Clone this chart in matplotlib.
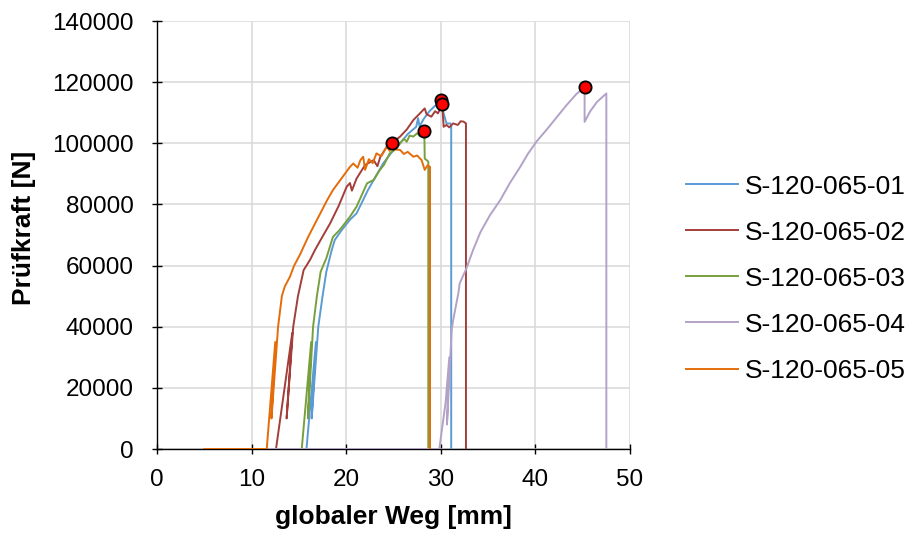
import matplotlib
matplotlib.use("Agg")
import matplotlib.pyplot as plt

plt.rcParams['font.family'] = ['Liberation Sans', 'DejaVu Sans']

series_names = ["S-120-065-01", "S-120-065-02", "S-120-065-03", "S-120-065-04", "S-120-065-05"]
colors = ["#5B9BD5", "#A33E3A", "#77A03C", "#B3A2C7", "#E46C0A"]

x01 = [5.0, 15.8, 16.8, 16.35, 17.05, 17.5, 17.9, 18.47, 18.8, 19.5, 20.4, 21.1, 22.3, 23.0, 23.9, 24.8,
       25.7, 26.5, 27.4, 27.6, 27.75, 28.2, 28.8, 29.3, 29.7, 30.0, 30.3, 30.6, 31.0, 31.1, 31.1]
f01 = [0, 0, 35000, 10000, 40000, 50000, 58000, 65100, 68400, 71500, 75000, 77100, 84700, 88500, 93400, 97000,
       100000, 103000, 105400, 108200, 105500, 108000, 110500, 112000, 113000, 114200, 109800, 106500, 106500, 106000, 0]

x02 = [5.0, 12.58, 14.3, 13.7, 14.4, 14.9, 15.5, 16.2, 16.7, 17.5, 18.3, 19.2, 20.05, 20.4, 20.6, 21.1, 22.0,
       22.9, 23.3, 23.6, 24.3, 25.0, 25.7, 26.4, 27.1, 27.7, 28.3, 28.5, 29.0, 29.4, 29.7, 30.15, 30.3, 30.6,
       30.9, 31.3, 31.8, 32.1, 32.4, 32.66, 32.66]
f02 = [0, 0, 38000, 10000, 40000, 50000, 58500, 62000, 65100, 69500, 73800, 79500, 85800, 87000, 84500, 88500, 92900,
       94500, 92500, 95500, 98900, 100500, 102200, 104500, 107600, 109500, 111400, 109500, 108700, 110500, 109800, 112700, 105400, 106000,
       105200, 106500, 106000, 107200, 107100, 106500, 0]

x03 = [5.0, 15.3, 16.3, 15.95, 16.5, 16.9, 17.3, 17.9, 18.6, 19.3, 20.4, 21.1, 22.2, 22.9, 23.5, 24.0, 24.6,
       25.2, 25.7, 26.1, 26.4, 26.7, 27.1, 27.5, 27.8, 28.15, 28.26, 28.3, 28.5, 28.68, 28.68]
f03 = [0, 0, 35000, 10000, 40000, 50000, 58000, 62400, 69400, 71600, 76000, 79300, 86900, 88000, 91000, 93000, 96700,
       98000, 100000, 101500, 100500, 102500, 102200, 103300, 102300, 103300, 104000, 95000, 94500, 94000, 0]

x04 = [5.0, 29.84, 30.5, 30.9, 30.65, 31.15, 31.3, 31.85, 32.0, 32.7, 33.4, 34.2, 35.2, 36.3, 37.3, 38.4, 39.2,
       40.1, 41.2, 42.3, 43.3, 44.3, 45.2, 45.2, 45.8, 46.5, 47.5, 47.5]
f04 = [0, 0, 15000, 30000, 8000, 38900, 42000, 50900, 54200, 59000, 65000, 71000, 76500, 81500, 87000, 92300, 96500,
       100500, 104500, 108700, 112500, 116000, 118500, 107000, 110500, 113500, 116300, 0]

x05 = [5.0, 11.6, 12.5, 12.1, 12.8, 13.2, 13.5, 14.06, 14.5, 15.1, 16.0, 16.9, 18.0, 18.6, 19.5, 20.4, 20.75,
       21.2, 21.5, 21.8, 22.0, 22.4, 22.8, 23.2, 23.7, 24.3, 24.6, 24.8, 25.2, 25.7, 26.1, 26.5, 27.1, 27.5,
       27.97, 28.3, 28.6, 28.86, 28.86]
f05 = [0, 0, 35000, 10000, 40000, 50000, 53100, 56400, 60000, 63500, 69500, 74900, 81500, 84700, 88500, 92300, 93400,
       92000, 94500, 95600, 91300, 94800, 93500, 96700, 95800, 98900, 97500, 100000, 98000, 97800, 96500, 97200, 95600, 96000,
       94500, 91300, 92800, 92300, 0]

peak_x = [30.0, 30.15, 28.26, 45.2, 24.8]
peak_f = [114200, 112700, 104000, 118500, 100000]

xs = [x01, x02, x03, x04, x05]
fs = [f01, f02, f03, f04, f05]

W, H = 911, 538
fig = plt.figure(figsize=(W / 100, H / 100), dpi=100)
ax = fig.add_axes([157 / W, 1 - 449 / H, (630 - 157) / W, (449 - 21) / H])

for x, f, c, n in zip(xs, fs, colors, series_names):
    ax.plot(x, f, color=c, lw=1.4, label=n, zorder=3)

ax.plot(peak_x, peak_f, linestyle='none', marker='o', markersize=8.8,
        markerfacecolor='#FF0000', markeredgecolor='black', markeredgewidth=1.3, zorder=5)

ax.set_xlim(0, 50)
ax.set_ylim(0, 140000)
ax.set_xticks([0, 10, 20, 30, 40, 50])
ax.set_yticks([0, 20000, 40000, 60000, 80000, 100000, 120000, 140000])
ax.grid(True, color='#D9D9D9', lw=1.1, zorder=0)
ax.set_axisbelow(True)
for s in ['top', 'right']:
    ax.spines[s].set_visible(False)
for s in ['left', 'bottom']:
    ax.spines[s].set_color('black')
    ax.spines[s].set_linewidth(1.0)
    ax.spines[s].set_zorder(2)
ax.tick_params(axis='both', direction='inout', length=7, width=1.0, labelsize=17.5, colors='black')
ax.tick_params(axis='y', pad=13.5)
ax.tick_params(axis='x', pad=11)

ax.set_xlabel("globaler Weg [mm]", fontsize=19, fontweight='bold', labelpad=10)
ax.set_ylabel("Prüfkraft [N]", fontsize=19, fontweight='bold', labelpad=11)
ax.yaxis.label.set_y((449 - 228) / 428)

fig.legend(loc='center left', bbox_to_anchor=(686 / W, 1 - 278.7 / H), frameon=False,
           fontsize=19, handlelength=1.97, handletextpad=0.27, labelspacing=0.835,
           borderpad=0, borderaxespad=0)

fig.savefig("out.png", dpi=100)
